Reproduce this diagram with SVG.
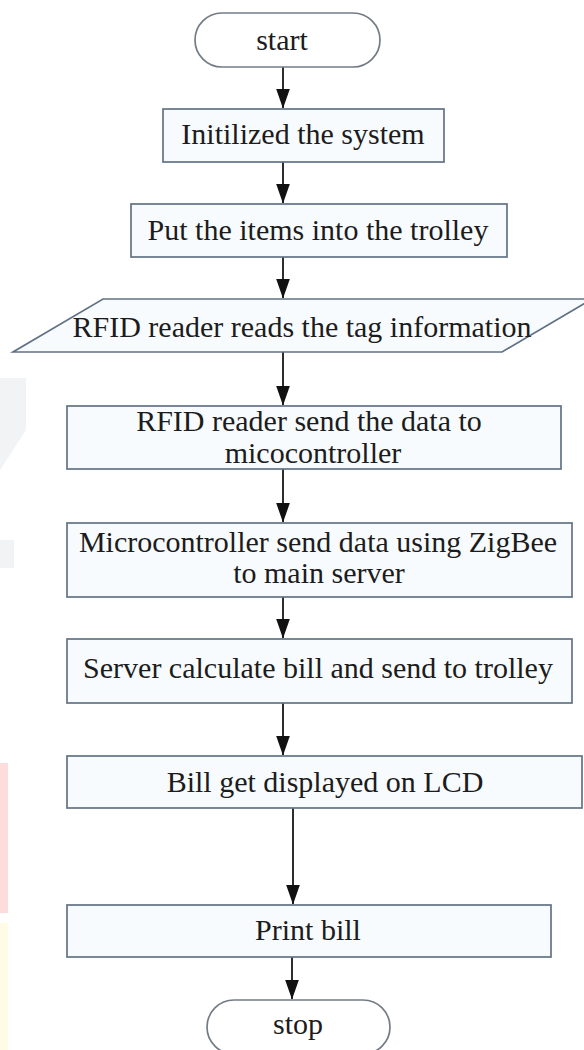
<svg xmlns="http://www.w3.org/2000/svg" width="584" height="1050" viewBox="0 0 584 1050">
  <defs>
    <style>
      .box { fill: #f8fbfe; stroke: #627284; stroke-width: 1.7; }
      .term { fill: #ffffff; stroke: #737c86; stroke-width: 1.7; }
      .lbl { font-family: "Liberation Serif", "Times New Roman", serif; font-size: 30px; fill: #1c1c1c; text-anchor: middle; }
      .edge { stroke: #2e2e2e; stroke-width: 2; fill: none; marker-end: url(#ah); }
    </style>
    <marker id="ah" markerWidth="20" markerHeight="14" refX="19.5" refY="7" orient="auto" markerUnits="userSpaceOnUse" viewBox="0 0 20 14">
      <path d="M0,0 L20,7 L0,14 Z" fill="#111111"/>
    </marker>
  </defs>
  <rect width="584" height="1050" fill="#ffffff"/>
  <g id="watermark">
    <polygon points="0,378 26,378 26,430 0,470" fill="#f2f3f5"/>
    <polygon points="0,540 14,540 14,568 0,568" fill="#f2f3f5"/>
    <rect x="0" y="763" width="8" height="150" fill="#ffdcdc"/>
    <rect x="0" y="923" width="8" height="127" fill="#fffbe4"/>
  </g>
  <g id="connectors">
    <line class="edge" x1="283" y1="67" x2="283" y2="108"/>
    <line class="edge" x1="283" y1="162" x2="283" y2="203"/>
    <line class="edge" x1="283" y1="257" x2="283" y2="298"/>
    <line class="edge" x1="283" y1="352" x2="283" y2="405"/>
    <line class="edge" x1="283" y1="469" x2="283" y2="522"/>
    <line class="edge" x1="283" y1="597" x2="283" y2="638"/>
    <line class="edge" x1="283" y1="703" x2="283" y2="755"/>
    <line class="edge" x1="293" y1="808" x2="293" y2="904"/>
    <line class="edge" x1="292" y1="957" x2="292" y2="999"/>
  </g>
  <g id="start">
    <rect class="term" x="195" y="13" width="185" height="54" rx="27" ry="27"/>
    <text class="lbl" x="282" y="50">start</text>
  </g>
  <g id="init">
    <rect class="box" x="163" y="109" width="281" height="53"/>
    <text class="lbl" x="303" y="144">Initilized the system</text>
  </g>
  <g id="put">
    <rect class="box" x="131" y="204" width="376" height="53"/>
    <text class="lbl" x="318" y="240">Put the items into the trolley</text>
  </g>
  <g id="rfid-read">
    <polygon class="box" points="103,299 592,299 502,352 13,352"/>
    <text class="lbl" x="302" y="337">RFID reader reads the tag information</text>
  </g>
  <g id="rfid-send">
    <rect class="box" x="67" y="406" width="494" height="63"/>
    <text class="lbl" x="309" y="431">RFID reader send the data to</text>
    <text class="lbl" x="313" y="463">micocontroller</text>
  </g>
  <g id="zigbee">
    <rect class="box" x="67" y="523" width="505" height="74"/>
    <text class="lbl" x="318" y="552">Microcontroller send data using ZigBee</text>
    <text class="lbl" x="319" y="583">to main server</text>
  </g>
  <g id="server">
    <rect class="box" x="67" y="639" width="505" height="64"/>
    <text class="lbl" x="318" y="678">Server calculate bill and send to trolley</text>
  </g>
  <g id="lcd">
    <rect class="box" x="67" y="756" width="515" height="52"/>
    <text class="lbl" x="325" y="792">Bill get displayed on LCD</text>
  </g>
  <g id="print">
    <rect class="box" x="67" y="905" width="484" height="52"/>
    <text class="lbl" x="308" y="940">Print bill</text>
  </g>
  <g id="stop">
    <rect class="term" x="207" y="1000" width="183" height="54" rx="27" ry="27"/>
    <text class="lbl" x="298" y="1034">stop</text>
  </g>
</svg>
